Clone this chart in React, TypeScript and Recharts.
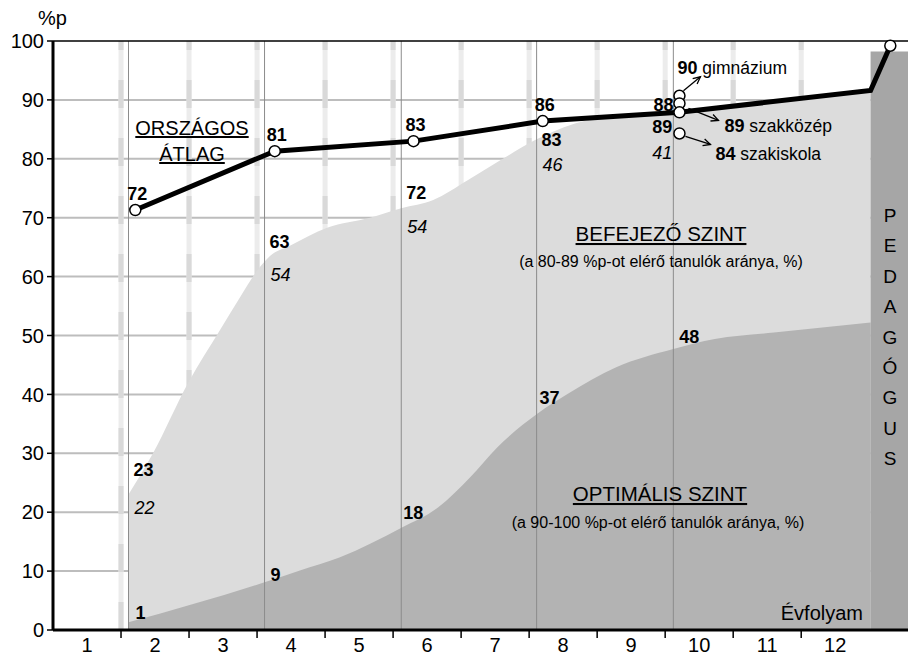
import React from 'react';
import {
  ComposedChart,
  Area,
  Line,
  Scatter,
  XAxis,
  YAxis,
  CartesianGrid,
  ReferenceLine,
} from 'recharts';

const FONT = '"Liberation Sans", Arial, Helvetica, sans-serif';

// axes
const grades = [1, 2, 3, 4, 5, 6, 7, 8, 9, 10, 11, 12];
const gradeBounds = [1.5, 2.5, 3.5, 4.5, 5.5, 6.5, 7.5, 8.5, 9.5, 10.5, 11.5];
const yTicks = [0, 10, 20, 30, 40, 50, 60, 70, 80, 90, 100];
const gridRows = [10, 20, 30, 40, 50, 60, 70, 80, 90];

// measurement moments (2., 4., 6., 8., 10. évfolyam)
const measureX = [1.61, 3.61, 5.62, 7.61, 9.62];

// országos átlag
const avgX = [1.71, 3.76, 5.8, 7.7, 9.71];
const avgY = [71.3, 81.3, 83.0, 86.4, 87.9];
const avgLabels = ['72', '81', '83', '86', '88'];
const tailX = [12.52, 12.81];
const tailY = [91.6, 99.2];

// szintek (%)
const befejezoTotal = [23, 63, 72, 83, 89];
const befejezoOnly = [22, 54, 54, 46, 41];
const optimalis = [1, 9, 18, 37, 48];

// 10. évfolyam iskolatípusonként
const schoolTypes = ['gimnázium', 'szakközép', 'szakiskola'];
const schoolLabels = ['90', '89', '84'];
const schoolY = [90.7, 89.4, 84.3];

// area edges
const upperX = [1.61, 1.97, 2.49, 2.96, 3.25, 3.5, 3.69, 3.99, 4.53, 5.16, 5.62, 6.09, 6.59, 7.07, 7.61, 7.85, 8.5, 9.62, 11, 12.52];
const upperY = [23, 30, 42, 51, 56.5, 61, 63.5, 65.3, 68.3, 70, 71.6, 73, 76.3, 79.7, 83.3, 84.6, 86.9, 87.9, 89.5, 91.5];
const lowerX = [1.61, 3.61, 4.13, 4.71, 5.63, 6.16, 6.63, 7.03, 7.62, 8.07, 8.78, 9.62, 10.23, 11.1, 12.52];
const lowerY = [1.3, 8.1, 10.1, 12.3, 17.4, 20.8, 25.9, 31, 36.7, 40.1, 44.6, 47.7, 49.4, 50.5, 52.2];

const pedagogusX = [12.52, 13.07];
const pedagogusLevel = 98.2;

// label layout (pixel nudges)
const cumDy = [-19, -11, -7, 5, 27];
const italicDy = [38, 33, 34, 25, 26];
const optDx = [7, 6, 2, 3, 6];
const optDy = [-5, 4, -5, -8, -4];
const schoolArrow = [
  [4, -5, 21, -19],
  [9, 5, 39, 17],
  [6, 3, 31, 11],
];
const schoolText = [
  [-2, -22],
  [45, 29],
  [36, 27],
];

const upperData = upperX.map((x, i) => ({ x, y: upperY[i] }));
const lowerData = lowerX.map((x, i) => ({ x, y: lowerY[i] }));
const pedagogusData = pedagogusX.map((x) => ({ x, y: pedagogusLevel }));
const lineData = [...avgX, ...tailX].map((x, i) => ({ x, y: [...avgY, ...tailY][i] }));
const circleData = [
  ...avgX.map((x, i) => ({ x, y: avgY[i] })),
  { x: tailX[1], y: tailY[1] },
];
const schoolData = schoolY.map((y, i) => ({ x: avgX[4], y, i }));

const last = measureX.length - 1;
const labelData = [
  ...avgX.map((x, i) => ({
    x,
    y: avgY[i],
    text: avgLabels[i],
    dx: i === last ? -6 : 2,
    dy: i === last ? -1 : -10,
    anchor: i === last ? 'end' : 'middle',
    bold: true,
  })),
  ...measureX.map((x, i) => ({
    x,
    y: befejezoTotal[i],
    text: String(befejezoTotal[i]),
    dx: i === last ? -1 : 5,
    dy: cumDy[i],
    anchor: i === last ? 'end' : 'start',
    bold: true,
  })),
  ...measureX.map((x, i) => ({
    x,
    y: befejezoTotal[i],
    text: String(befejezoOnly[i]),
    dx: i === last ? -1 : 6,
    dy: cumDy[i] + italicDy[i],
    anchor: i === last ? 'end' : 'start',
    italic: true,
  })),
  ...measureX.map((x, i) => ({
    x,
    y: optimalis[i],
    text: String(optimalis[i]),
    dx: optDx[i],
    dy: optDy[i],
    anchor: 'start',
    bold: true,
  })),
];

const XTick = (props: any) => {
  const { x, y, payload } = props;
  if (Number.isInteger(payload.value)) {
    return (
      <text x={x} y={y + 22} textAnchor="middle" fontSize={20} fontFamily={FONT} fill="#000">
        {payload.value}
      </text>
    );
  }
  return <line x1={x} x2={x} y1={y + 1} y2={y + 8} stroke="#000" strokeWidth={1.5} />;
};

const NumberLabel = (props: any) => {
  const { cx, cy, payload } = props;
  return (
    <text
      x={cx + payload.dx}
      y={cy + payload.dy}
      textAnchor={payload.anchor}
      fontSize={18}
      fontFamily={FONT}
      fontWeight={payload.bold ? 'bold' : 'normal'}
      fontStyle={payload.italic ? 'italic' : 'normal'}
      fill="#000"
    >
      {payload.text}
    </text>
  );
};

const Dot = (props: any) => (
  <circle cx={props.cx} cy={props.cy} r={5.5} fill="#fff" stroke="#000" strokeWidth={1.5} />
);

const SchoolNote = (props: any) => {
  const { cx, cy, payload } = props;
  const [ax1, ay1, ax2, ay2] = schoolArrow[payload.i];
  const [tx, ty] = schoolText[payload.i];
  const x1 = cx + ax1;
  const y1 = cy + ay1;
  const x2 = cx + ax2;
  const y2 = cy + ay2;
  const a = Math.atan2(y2 - y1, x2 - x1);
  const head = `${x2 - 8 * Math.cos(a - 0.45)},${y2 - 8 * Math.sin(a - 0.45)} ${x2},${y2} ${
    x2 - 8 * Math.cos(a + 0.45)
  },${y2 - 8 * Math.sin(a + 0.45)}`;
  return (
    <g>
      <line x1={x1} y1={y1} x2={x2} y2={y2} stroke="#000" strokeWidth={1.3} />
      <polyline points={head} fill="none" stroke="#000" strokeWidth={1.3} />
      <circle cx={cx} cy={cy} r={5.5} fill="#fff" stroke="#000" strokeWidth={1.5} />
      <text x={cx + tx} y={cy + ty} fontSize={17.5} fontFamily={FONT} fill="#000">
        <tspan fontWeight="bold" fontSize={18}>
          {schoolLabels[payload.i]}
        </tspan>
        <tspan> {schoolTypes[payload.i]}</tspan>
      </text>
    </g>
  );
};

const pedagogus = 'PEDAGÓGUS'.split('');

export default function App() {
  return (
    <div style={{ position: 'absolute', left: 0, top: 0, width: 908, height: 657, background: '#fff' }}>
      <ComposedChart width={908} height={657} margin={{ top: 41, right: 0, bottom: 0, left: 0 }}>
        <CartesianGrid
          vertical={false}
          horizontalValues={gridRows}
          stroke="#bdbdbd"
          strokeWidth={2}
        />
        {gradeBounds.map((x) => (
          <ReferenceLine key={`g${x}`} x={x} stroke="#ececec" strokeWidth={5} zIndex={-50} />
        ))}
        {gradeBounds.map((x) => (
          <ReferenceLine
            key={`d${x}`}
            x={x}
            stroke="#d9d9d9"
            strokeWidth={5}
            strokeDasharray="28 30"
            zIndex={-40}
          />
        ))}
        <XAxis
          type="number"
          dataKey="x"
          domain={[0.5, 13.07]}
          allowDataOverflow
          ticks={[...grades, ...gradeBounds].sort((a, b) => a - b)}
          interval={0}
          tick={<XTick />}
          tickLine={false}
          tickSize={0}
          tickMargin={0}
          height={27}
          axisLine={{ stroke: '#000', strokeWidth: 3 }}
        />
        <YAxis
          type="number"
          domain={[0, 100]}
          ticks={yTicks}
          interval={0}
          width={53}
          tickSize={6}
          tickMargin={3}
          axisLine={{ stroke: '#000', strokeWidth: 3 }}
          tickLine={{ stroke: '#000', strokeWidth: 1.5 }}
          tick={{ fill: '#000', fontSize: 20, fontFamily: FONT }}
        />
        <Area
          data={upperData}
          dataKey="y"
          type="monotone"
          fill="#dcdcdc"
          fillOpacity={1}
          stroke="none"
          dot={false}
          activeDot={false}
          isAnimationActive={false}
        />
        <Area
          data={lowerData}
          dataKey="y"
          type="monotone"
          fill="#b3b3b3"
          fillOpacity={1}
          stroke="none"
          dot={false}
          activeDot={false}
          isAnimationActive={false}
        />
        <Area
          data={pedagogusData}
          dataKey="y"
          type="linear"
          fill="#a6a6a6"
          fillOpacity={1}
          stroke="none"
          dot={false}
          activeDot={false}
          isAnimationActive={false}
        />
        {measureX.map((x) => (
          <ReferenceLine key={x} x={x} stroke="#8c8c8c" strokeWidth={1} />
        ))}
        <ReferenceLine y={100} stroke="#000" strokeWidth={1.5} />
        <Line
          data={lineData}
          dataKey="y"
          type="linear"
          stroke="#000"
          strokeWidth={5}
          dot={false}
          activeDot={false}
          isAnimationActive={false}
        />
        <Scatter data={labelData} dataKey="y" shape={<NumberLabel />} isAnimationActive={false} />
        <Scatter data={schoolData} dataKey="y" shape={<SchoolNote />} isAnimationActive={false} />
        <Scatter data={circleData} dataKey="y" shape={<Dot />} isAnimationActive={false} />
      </ComposedChart>
      <svg
        width={908}
        height={657}
        style={{ position: 'absolute', left: 0, top: 0, pointerEvents: 'none' }}
        fontFamily={FONT}
        fill="#000"
      >
        <text x={38} y={25} fontSize={20}>
          %p
        </text>
        <text x={192} y={135} fontSize={20} textAnchor="middle" textDecoration="underline">
          ORSZÁGOS
        </text>
        <text x={192} y={161} fontSize={20} textAnchor="middle" textDecoration="underline">
          ÁTLAG
        </text>
        <text x={661} y={241} fontSize={20.5} textAnchor="middle" textDecoration="underline">
          BEFEJEZŐ SZINT
        </text>
        <text x={661} y={267} fontSize={16} textAnchor="middle">
          (a 80-89 %p-ot elérő tanulók aránya, %)
        </text>
        <text x={660} y={501} fontSize={20.5} textAnchor="middle" textDecoration="underline">
          OPTIMÁLIS SZINT
        </text>
        <text x={658} y={528} fontSize={16} textAnchor="middle">
          (a 90-100 %p-ot elérő tanulók aránya, %)
        </text>
        <text x={863} y={620} fontSize={20} textAnchor="end">
          Évfolyam
        </text>
        {pedagogus.map((ch, i) => (
          <text key={i} x={890} y={222 + i * 30.4} fontSize={19} textAnchor="middle">
            {ch}
          </text>
        ))}
      </svg>
    </div>
  );
}
